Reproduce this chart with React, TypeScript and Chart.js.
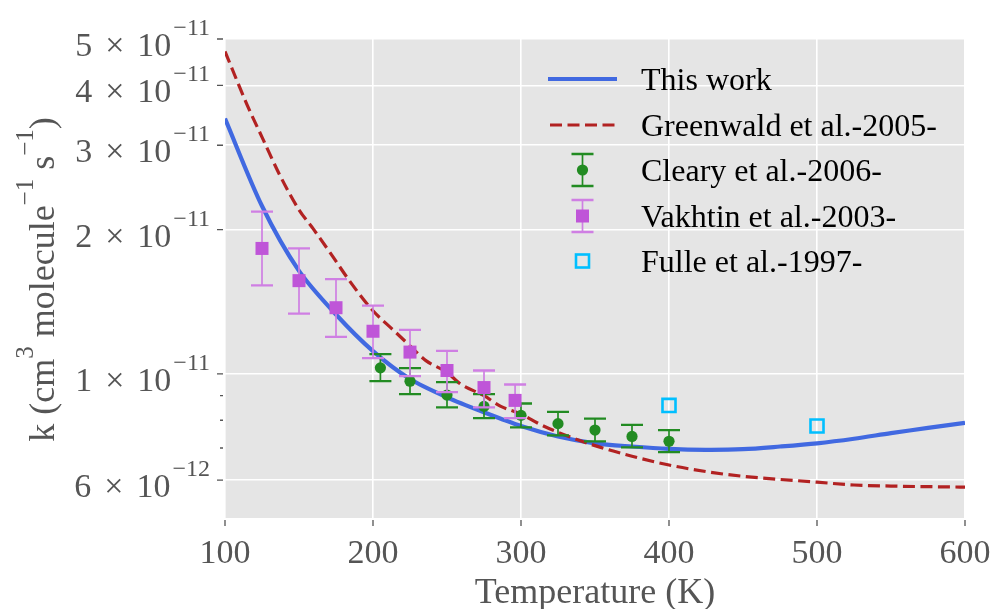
import React, { useEffect, useRef } from 'react';
import { Chart, registerables } from 'chart.js';

Chart.register(...registerables);

// ---------------- data ----------------
const modelT = [100, 125, 150, 175, 200, 225, 250, 275, 300, 325, 350, 375, 400, 425, 450, 475, 500, 525, 550, 575, 600];
const thisWorkK = [3.41e-11, 2.24e-11, 1.64e-11, 1.33e-11, 1.115e-11, 0.975e-11, 0.893e-11, 0.831e-11, 0.778e-11, 0.74e-11, 0.716e-11, 0.705e-11, 0.697e-11, 0.694e-11, 0.696e-11, 0.705e-11, 0.716e-11, 0.732e-11, 0.752e-11, 0.771e-11, 0.79e-11];

const greenwaldT = [100, 115, 125, 137, 150, 160, 171, 185, 200, 213, 225, 236, 250, 259, 275, 286, 300, 313, 325, 350, 375, 400, 425, 450, 500, 525, 550, 600];
const greenwaldK = [4.71e-11, 3.64e-11, 3.12e-11, 2.6e-11, 2.2e-11, 2.0e-11, 1.79e-11, 1.55e-11, 1.354e-11, 1.24e-11, 1.144e-11, 1.064e-11, 1.007e-11, 0.953e-11, 0.9e-11, 0.856e-11, 0.824e-11, 0.784e-11, 0.755e-11, 0.708e-11, 0.673e-11, 0.645e-11, 0.625e-11, 0.611e-11, 0.594e-11, 0.586e-11, 0.583e-11, 0.58e-11];

const clearyT = [205, 225, 250, 275, 300, 325, 350, 375, 400];
const clearyK = [1.029e-11, 0.965e-11, 0.903e-11, 0.855e-11, 0.819e-11, 0.787e-11, 0.763e-11, 0.74e-11, 0.723e-11];
const clearyLow = [0.965e-11, 0.907e-11, 0.851e-11, 0.808e-11, 0.773e-11, 0.744e-11, 0.723e-11, 0.702e-11, 0.686e-11];
const clearyHigh = [1.099e-11, 1.028e-11, 0.961e-11, 0.907e-11, 0.867e-11, 0.833e-11, 0.806e-11, 0.782e-11, 0.763e-11];

const vakhtinT = [125, 150, 175, 200, 225, 250, 275, 296];
const vakhtinK = [1.827e-11, 1.565e-11, 1.374e-11, 1.227e-11, 1.11e-11, 1.016e-11, 0.936e-11, 0.88e-11];
const vakhtinLow = [1.53e-11, 1.335e-11, 1.194e-11, 1.078e-11, 0.989e-11, 0.916e-11, 0.851e-11, 0.808e-11];
const vakhtinHigh = [2.18e-11, 1.827e-11, 1.577e-11, 1.388e-11, 1.235e-11, 1.117e-11, 1.016e-11, 0.95e-11];

const fulleT = [400, 500];
const fulleK = [0.859e-11, 0.778e-11];

const xTicks = [100, 200, 300, 400, 500, 600];
const yMajorTicks = [6e-12, 1e-11, 2e-11, 3e-11, 4e-11, 5e-11];
const yMinorTicks = [7e-12, 8e-12, 9e-12];

const labels = ['This work', 'Greenwald et al.-2005-', 'Cleary et al.-2006-', 'Vakhtin et al.-2003-', 'Fulle et al.-1997-'];

// ---------------- styles ----------------
const FONT = '"Liberation Serif", "Times New Roman", serif';
const BLUE = '#4169E1';
const RED = '#B22222';
const GREEN = '#228B22';
const ORCHID = '#BF55D8';
const ORCHID_ERR = '#CF7FE3';
const CYAN = '#00BFFF';
const TXT = '#555555';
const BLUE_W = 4.2;
const RED_W = 3.2;
const RED_DASH = [12, 5.5];

const pts = (xs: number[], ys: number[]) => xs.map((x, i) => ({ x, y: ys[i] }));

function expParts(v: number) {
  const e = Math.floor(Math.log10(v) + 1e-9);
  const m = Math.round(v / Math.pow(10, e));
  return { m: String(m), e: '\u2212' + String(-e) };
}

const errBarPlugin = {
  id: 'errbars',
  beforeDatasetDraw(chart: any, args: any) {
    const ds = chart.data.datasets[args.index];
    if (!ds.errLow) return;
    const xs = chart.scales.x;
    const ys = chart.scales.y;
    const ctx = chart.ctx as CanvasRenderingContext2D;
    ctx.save();
    ctx.strokeStyle = ds.errColor;
    ds.data.forEach((p: any, i: number) => {
      const px = xs.getPixelForValue(p.x);
      const yl = ys.getPixelForValue(ds.errLow[i]);
      const yh = ys.getPixelForValue(ds.errHigh[i]);
      ctx.lineWidth = 1.7;
      ctx.beginPath();
      ctx.moveTo(px, yl);
      ctx.lineTo(px, yh);
      ctx.stroke();
      ctx.lineWidth = 2.3;
      ctx.beginPath();
      ctx.moveTo(px - 11, yl);
      ctx.lineTo(px + 11, yl);
      ctx.moveTo(px - 11, yh);
      ctx.lineTo(px + 11, yh);
      ctx.stroke();
    });
    ctx.restore();
  },
};

const decorPlugin = {
  id: 'decor',
  beforeDraw(chart: any) {
    const { ctx, chartArea: a } = chart;
    ctx.save();
    ctx.fillStyle = '#ffffff';
    ctx.fillRect(0, 0, chart.width, chart.height);
    ctx.fillStyle = '#E5E5E5';
    ctx.fillRect(a.left, a.top, a.right - a.left, a.bottom - a.top);
    ctx.restore();
  },
  afterDraw(chart: any) {
    const ctx = chart.ctx as CanvasRenderingContext2D;
    const a = chart.chartArea;
    const xs = chart.scales.x;
    const ys = chart.scales.y;
    ctx.save();
    // tick marks
    ctx.strokeStyle = TXT;
    ctx.lineWidth = 1.3;
    ctx.beginPath();
    xTicks.forEach((t) => {
      const px = xs.getPixelForValue(t);
      ctx.moveTo(px, a.bottom + 2);
      ctx.lineTo(px, a.bottom + 8);
    });
    yMajorTicks.forEach((t) => {
      const py = ys.getPixelForValue(t);
      ctx.moveTo(a.left - 8, py);
      ctx.lineTo(a.left - 2, py);
    });
    yMinorTicks.forEach((t) => {
      const py = ys.getPixelForValue(t);
      ctx.moveTo(a.left - 5, py);
      ctx.lineTo(a.left - 2, py);
    });
    ctx.stroke();

    // x tick labels
    ctx.fillStyle = TXT;
    ctx.textBaseline = 'alphabetic';
    ctx.font = `34px ${FONT}`;
    ctx.textAlign = 'center';
    xTicks.forEach((t) => {
      ctx.fillText(String(t), xs.getPixelForValue(t), a.bottom + 45);
    });

    // y tick labels with superscripts
    ctx.textAlign = 'left';
    yMajorTicks.forEach((t) => {
      const py = ys.getPixelForValue(t);
      const { m, e } = expParts(t);
      const right = a.left - 15;
      ctx.font = `24px ${FONT}`;
      const we = ctx.measureText(e).width;
      ctx.font = `34px ${FONT}`;
      const w10 = ctx.measureText('10').width;
      const wx = ctx.measureText('\u00D7').width;
      const wm = ctx.measureText(m).width;
      const xe = right - we;
      const x10 = xe - 2 - w10;
      const xx = x10 - 13 - wx;
      const xm = xx - 13 - wm;
      ctx.fillText(m, xm, py + 17);
      ctx.fillText('\u00D7', xx, py + 17);
      ctx.fillText('10', x10, py + 17);
      ctx.font = `24px ${FONT}`;
      ctx.fillText(e, xe, py - 4);
    });

    // x title
    ctx.font = `36px ${FONT}`;
    ctx.textAlign = 'center';
    ctx.fillText('Temperature (K)', (a.left + a.right) / 2, 603);

    // y title (rotated, with superscripts)
    const parts: [string, boolean][] = [
      ['k (cm', false],
      ['3', true],
      [' molecule', false],
      ['\u22121', true],
      [' s', false],
      ['\u22121', true],
      [')', false],
    ];
    const fMain = `36px ${FONT}`;
    const fSup = `25px ${FONT}`;
    let total = 0;
    const widths = parts.map(([t, s]) => {
      ctx.font = s ? fSup : fMain;
      const w = ctx.measureText(t).width;
      total += w;
      return w;
    });
    ctx.translate(54, (a.top + a.bottom) / 2 + 1);
    ctx.rotate(-Math.PI / 2);
    ctx.textAlign = 'left';
    let cx = -total / 2;
    parts.forEach(([t, s], i) => {
      ctx.font = s ? fSup : fMain;
      ctx.fillText(t, cx, s ? -21 : 0);
      cx += widths[i];
    });
    ctx.restore();

    // legend
    ctx.save();
    const rows = [79, 125, 170, 216, 261];
    const sx0 = 548;
    const sx1 = 617;
    const scx = (sx0 + sx1) / 2;
    ctx.font = `32px ${FONT}`;
    ctx.fillStyle = '#000000';
    ctx.textAlign = 'left';
    ctx.textBaseline = 'alphabetic';
    labels.forEach((lab, i) => ctx.fillText(lab, 641, rows[i] + 10.5));

    // this work
    ctx.strokeStyle = BLUE;
    ctx.lineWidth = BLUE_W;
    ctx.beginPath();
    ctx.moveTo(sx0, rows[0]);
    ctx.lineTo(sx1, rows[0]);
    ctx.stroke();
    // greenwald
    ctx.strokeStyle = RED;
    ctx.lineWidth = RED_W;
    ctx.setLineDash(RED_DASH);
    ctx.beginPath();
    ctx.moveTo(sx0 + 2, rows[1]);
    ctx.lineTo(sx1, rows[1]);
    ctx.stroke();
    ctx.setLineDash([]);
    // errorbar glyphs
    const errGlyph = (cy: number, col: string) => {
      ctx.strokeStyle = col;
      ctx.lineWidth = 1.7;
      ctx.beginPath();
      ctx.moveTo(scx, cy - 16);
      ctx.lineTo(scx, cy + 16);
      ctx.stroke();
      ctx.lineWidth = 2.3;
      ctx.beginPath();
      ctx.moveTo(scx - 11, cy - 16);
      ctx.lineTo(scx + 11, cy - 16);
      ctx.moveTo(scx - 11, cy + 16);
      ctx.lineTo(scx + 11, cy + 16);
      ctx.stroke();
    };
    errGlyph(rows[2], GREEN);
    ctx.fillStyle = GREEN;
    ctx.beginPath();
    ctx.arc(scx, rows[2], 5.6, 0, Math.PI * 2);
    ctx.fill();
    errGlyph(rows[3], ORCHID_ERR);
    ctx.fillStyle = ORCHID;
    ctx.fillRect(scx - 6.5, rows[3] - 6.5, 13, 13);
    ctx.strokeStyle = CYAN;
    ctx.lineWidth = 2.6;
    ctx.strokeRect(scx - 6.5, rows[4] - 6.5, 13, 13);
    ctx.restore();
  },
};

export default function App() {
  const ref = useRef<HTMLCanvasElement | null>(null);

  useEffect(() => {
    if (!ref.current) return;
    const chart = new Chart(ref.current, {
      type: 'scatter',
      data: {
        datasets: [
          {
            label: labels[0],
            data: pts(modelT, thisWorkK),
            showLine: true,
            borderColor: BLUE,
            borderWidth: BLUE_W,
            pointRadius: 0,
            tension: 0.3,
            order: 5,
          } as any,
          {
            label: labels[1],
            data: pts(greenwaldT, greenwaldK),
            showLine: true,
            borderColor: RED,
            borderWidth: RED_W,
            borderDash: RED_DASH,
            borderCapStyle: 'butt',
            pointRadius: 0,
            cubicInterpolationMode: 'monotone',
            order: 4,
          } as any,
          {
            label: labels[2],
            data: pts(clearyT, clearyK),
            showLine: false,
            pointStyle: 'circle',
            pointRadius: 5.6,
            backgroundColor: GREEN,
            borderColor: GREEN,
            borderWidth: 0,
            errLow: clearyLow,
            errHigh: clearyHigh,
            errColor: GREEN,
            order: 3,
          } as any,
          {
            label: labels[3],
            data: pts(vakhtinT, vakhtinK),
            showLine: false,
            pointStyle: 'rect',
            pointRadius: 9.2,
            backgroundColor: ORCHID,
            borderColor: ORCHID,
            borderWidth: 0,
            errLow: vakhtinLow,
            errHigh: vakhtinHigh,
            errColor: ORCHID_ERR,
            order: 2,
          } as any,
          {
            label: labels[4],
            data: pts(fulleT, fulleK),
            showLine: false,
            pointStyle: 'rect',
            pointRadius: 9.2,
            backgroundColor: 'rgba(0,0,0,0)',
            borderColor: CYAN,
            borderWidth: 2.6,
            order: 1,
          } as any,
        ],
      },
      options: {
        responsive: false,
        animation: false,
        devicePixelRatio: 1,
        layout: { padding: { left: 225, right: 32, top: 39, bottom: 91 } },
        plugins: {
          legend: { display: false },
          tooltip: { enabled: false },
        },
        scales: {
          x: {
            type: 'linear',
            min: 100,
            max: 600,
            ticks: { display: false },
            grid: { color: '#ffffff', lineWidth: 1.6, drawTicks: false },
            border: { display: false },
            afterBuildTicks: (s: any) => {
              s.ticks = xTicks.map((v) => ({ value: v }));
            },
            afterFit: (s: any) => {
              s.height = 0;
            },
          },
          y: {
            type: 'logarithmic',
            min: 5e-12,
            max: 5e-11,
            ticks: { display: false },
            grid: { color: '#ffffff', lineWidth: 1.6, drawTicks: false },
            border: { display: false },
            afterBuildTicks: (s: any) => {
              s.ticks = yMajorTicks.map((v) => ({ value: v }));
            },
            afterFit: (s: any) => {
              s.width = 0;
            },
          },
        },
      } as any,
      plugins: [decorPlugin, errBarPlugin],
    });
    return () => chart.destroy();
  }, []);

  return (
    <div style={{ position: 'fixed', left: 0, top: 0, width: 997, height: 609, background: '#fff' }}>
      <canvas ref={ref} width={997} height={609} style={{ width: 997, height: 609, display: 'block' }} />
    </div>
  );
}
